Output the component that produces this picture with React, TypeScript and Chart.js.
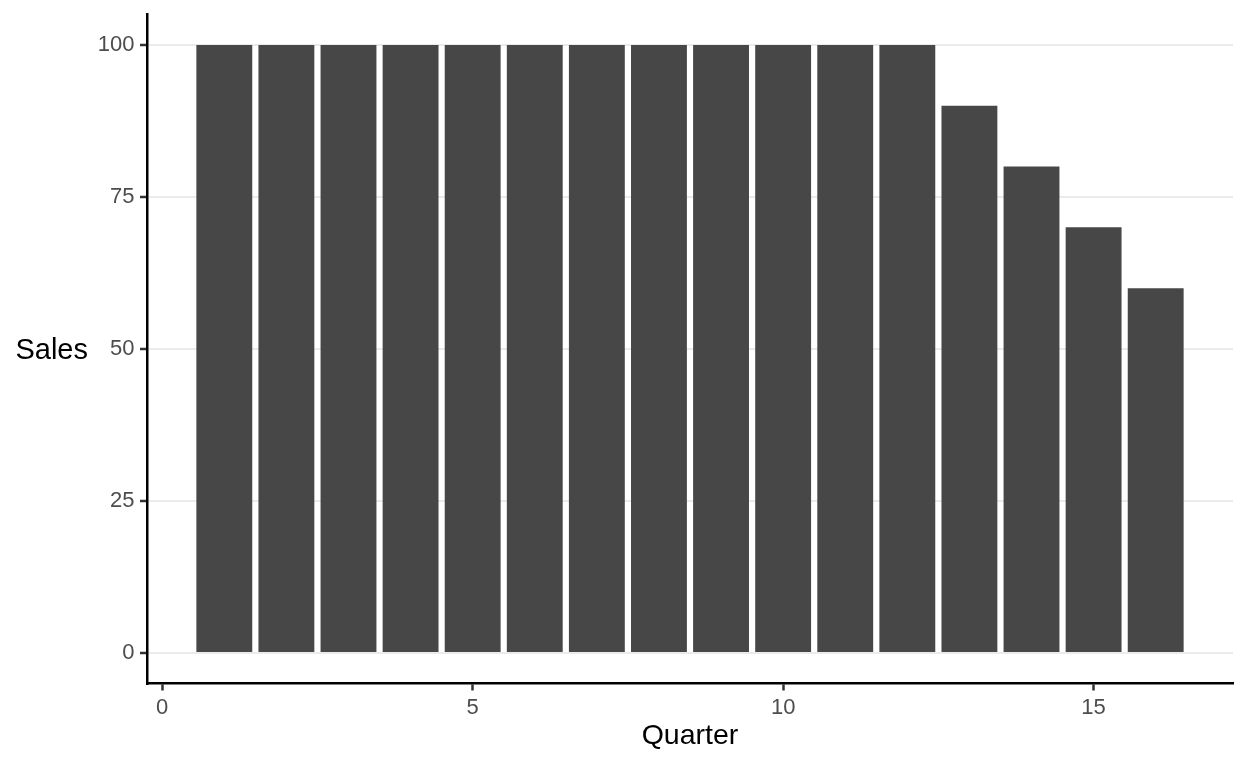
import React, { useEffect, useRef } from "react";
import { Chart, registerables } from "chart.js";

Chart.register(...registerables);

const quarters = [1, 2, 3, 4, 5, 6, 7, 8, 9, 10, 11, 12, 13, 14, 15, 16];
const sales = [100, 100, 100, 100, 100, 100, 100, 100, 100, 100, 100, 100, 90, 80, 70, 60];
const xTicks = [0, 5, 10, 15];
const yTicks = [0, 25, 50, 75, 100];

const FONT = "'Liberation Sans', Arial, Helvetica, sans-serif";

const ySideTitle = {
  id: "ySideTitle",
  afterDraw(chart: any) {
    const { ctx, chartArea } = chart;
    ctx.save();
    ctx.fillStyle = "#000000";
    ctx.font = `29px ${FONT}`;
    ctx.textAlign = "right";
    ctx.textBaseline = "middle";
    ctx.fillText("Sales", 88, (chartArea.top + chartArea.bottom) / 2 + 2);
    ctx.restore();
  },
};

export default function App() {
  const ref = useRef<HTMLCanvasElement | null>(null);

  useEffect(() => {
    if (!ref.current) return;
    const chart = new Chart(ref.current, {
      type: "bar",
      data: {
        datasets: [
          {
            label: "Sales",
            data: quarters.map((q, i) => ({ x: q, y: sales[i] })),
            backgroundColor: "#474747",
            borderWidth: 0,
            barPercentage: 0.9,
            categoryPercentage: 1,
          },
        ],
      },
      options: {
        animation: false,
        responsive: false,
        maintainAspectRatio: false,
        layout: { padding: { left: 0, top: 14.5, right: 15, bottom: 0 } },
        plugins: {
          legend: { display: false },
          tooltip: { enabled: false },
        },
        scales: {
          x: {
            type: "linear",
            offset: false,
            min: -0.245,
            max: 17.245,
            afterBuildTicks: (scale: any) => {
              scale.ticks = xTicks.map((v) => ({ value: v }));
            },
            afterFit: (scale: any) => {
              scale.height = 84.5;
              scale.paddingLeft = 0;
              scale.paddingRight = 0;
            },
            grid: {
              offset: false,
              color: "rgba(0,0,0,0)",
              tickColor: "#333333",
              tickLength: 7,
              tickWidth: 2.5,
            },
            border: { display: true, color: "#000000", width: 2.5 },
            ticks: {
              color: "#4D4D4D",
              font: { family: FONT, size: 22 },
              padding: 4,
              maxRotation: 0,
            },
            title: {
              display: true,
              text: "Quarter",
              color: "#000000",
              font: { family: FONT, size: 28.5, lineHeight: 1 },
              padding: { top: 0, bottom: 18 },
            },
          },
          y: {
            type: "linear",
            min: -5,
            max: 105,
            afterBuildTicks: (scale: any) => {
              scale.ticks = yTicks.map((v) => ({ value: v }));
            },
            afterFit: (scale: any) => {
              scale.width = 147;
              scale.paddingTop = 0;
              scale.paddingBottom = 0;
            },
            grid: {
              color: "#EBEBEB",
              lineWidth: 2,
              tickColor: "#333333",
              tickLength: 7,
              tickWidth: 2.5,
            },
            border: { display: true, color: "#000000", width: 2.5 },
            ticks: {
              color: "#4D4D4D",
              font: { family: FONT, size: 22 },
              padding: 5.5,
            },
          },
        },
      },
      plugins: [ySideTitle],
    });
    return () => chart.destroy();
  }, []);

  return (
    <div style={{ position: "absolute", left: 0, top: 0, width: 1248, height: 768, background: "#ffffff" }}>
      <canvas ref={ref} width={1248} height={768} style={{ width: 1248, height: 768, display: "block" }} />
    </div>
  );
}
